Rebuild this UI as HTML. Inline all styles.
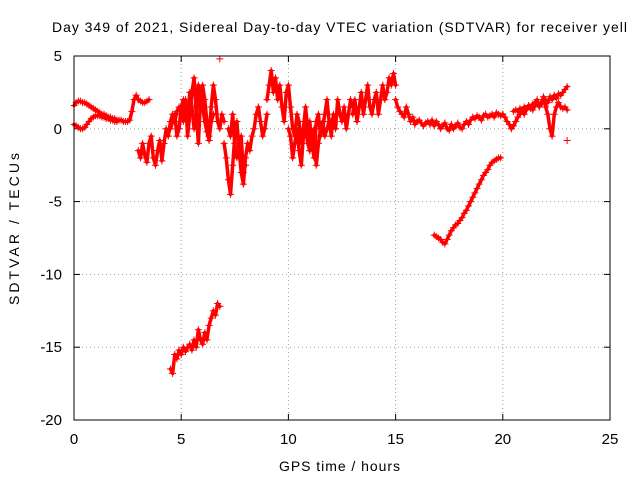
<!DOCTYPE html>
<html><head><meta charset="utf-8"><style>
html,body{margin:0;padding:0;background:#fff;}
svg{display:block;font-family:"Liberation Sans",sans-serif;}
</style></head><body>
<svg id="chart" width="640" height="480" xmlns="http://www.w3.org/2000/svg">
<rect width="640" height="480" fill="#fff"/>
<text x="52" y="32" font-size="14" textLength="575" lengthAdjust="spacing">Day 349 of 2021, Sidereal Day-to-day VTEC variation (SDTVAR) for receiver yell</text>
<text x="279" y="471" font-size="14" textLength="121" lengthAdjust="spacing">GPS time / hours</text>
<text transform="translate(19,305) rotate(-90)" font-size="14" textLength="152" lengthAdjust="spacing">SDTVAR / TECUs</text>
<g id="grid"></g><g id="ticks"></g><g id="marks"></g>
<rect x="74" y="56" width="536" height="364" fill="none" stroke="#000" stroke-width="1"/>
</svg>
<script>
const xTicks=[0,5,10,15,20,25];
const yTicks=[5,0,-5,-10,-15,-20];
const step=0.1;
const starts=[0,0,3.0,3.0,5.0,4.5,7.0,7.2,9.0,11.0,10.0,13.0,15.0,17.0,20.0,20.5,4.5,16.8];
const s1=[1.6,1.8,1.9,1.9,1.8,1.8,1.7,1.6,1.5,1.4,1.3,1.2,1.1,1.0,1.0,0.9,0.8,0.8,0.7,0.7,0.6,0.6,0.6,0.5,0.5,0.5,0.6,1.2,2.0,2.3,2.0];
const s2=[0.3,0.2,0.1,0.0,0.0,0.1,0.3,0.5,0.7,0.8,0.9,0.9,0.9,0.8,0.8,0.7,0.7,0.6,0.6,0.5,0.5];
const s3=[-1.5,-2.0,-1.0,-1.8,-2.3,-1.0,-0.5,-2.0,-2.5,-1.5,-0.8,-2.2,-1.0,0.0,-0.5,0.5,1.0,0.5,1.2,1.5,1.0];
const s4=[2.0,1.9,1.8,1.8,1.9,2.0];
const s5=[1.5,0.5,2.0,-0.5,1.0,2.5,3.5,1.0,-1.0,2.0,3.0,2.0,0.5,-0.5,1.5,3.0,2.0,0.5,0.0,1.0,0.5];
const s6=[0.0,0.5,1.0,-0.5,0.0,1.5,2.0,1.0,0.5,2.5,1.5,0.0,1.0,3.0,2.5,1.5,0.5,-0.2,-0.8,0.5,1.0];
const s7=[-1.0,-2.0,-3.5,-4.5,-2.5,-0.5,0.5,-1.5,-3.0,-3.8,-2.0,-1.0,-1.5,-0.5,0.0,1.0,1.5,0.5,-0.5,0.0,1.0];
const s8=[0.0,-0.5,1.0,-1.0,-2.0,-1.5,-0.5,-3.0,-2.5];
const s9=[2.0,3.0,4.0,2.5,3.5,2.0,3.0,1.5,0.5,2.5,3.0,1.5,0.0,-0.5,1.0,0.5,-1.0,0.0,1.5,0.0,-1.5];
const s10=[0.5,-1.0,-2.0,0.5,1.0,-0.5,0.0,1.0,2.0,0.5,-0.5,1.0,0.0,2.0,1.0,0.5,1.5,0.0,1.0,2.0,1.5];
const s11=[0.0,-0.5,-2.0,-1.0,0.0,-1.5,-2.5,-0.5,0.0,-1.0,-1.5,-0.5,0.0,-2.5,-1.0,0.0,0.5,-0.5,0.0,0.5,0.5];
const s12=[1.0,2.0,0.5,1.5,2.5,1.0,2.0,3.0,1.5,1.0,2.0,2.5,1.0,2.0,3.0,2.0,2.5,3.5,3.0,3.8,3.0];
const s13=[2.0,1.5,1.2,1.0,0.8,1.5,1.0,0.5,0.8,0.3,0.5,0.6,0.4,0.2,0.4,0.5,0.3,0.6,0.2,0.5,0.3];
const s14=[0.3,0.0,0.2,0.4,0.0,-0.1,0.3,0.0,0.2,0.4,0.1,0.0,0.3,0.5,0.3,0.6,0.8,0.7,0.9,0.8,0.6,0.9,1.0,0.8,0.9,1.0,0.8,1.1,1.0,0.9,1.0];
const s15=[1.0,0.8,0.5,0.3,0.0,0.2,0.5,0.8,1.0,1.2,1.0,1.3,1.5,1.4,1.3,1.6,1.8,1.5,1.7,1.9,2.0,1.8,2.2,2.0,2.3,2.1,2.4,2.3,2.5,2.7,2.9];
const s16=[1.2,1.3,1.2,1.4,1.3,1.5,1.4,1.6,1.5,1.7,1.8,2.0,1.6,1.8,2.2,1.5,1.0,0.0,-0.5,1.0,1.5,1.8,1.5,1.4,1.5,1.3];
const s17=[-16.5,-16.8,-15.5,-15.8,-15.2,-15.5,-15.0,-15.3,-15.0,-14.8,-15.2,-14.5,-15.0,-13.8,-14.5,-14.8,-14.0,-14.5,-13.5,-13.0,-12.5,-12.8,-12.0,-12.2];
const s18=[-7.3,-7.4,-7.5,-7.6,-7.8,-7.9,-7.6,-7.3,-7.0,-6.8,-6.6,-6.5,-6.3,-6.1,-5.8,-5.6,-5.3,-5.0,-4.7,-4.4,-4.1,-3.8,-3.5,-3.2,-3.0,-2.8,-2.5,-2.3,-2.2,-2.1,-2.0,-2.0];
const seriesValues=[s1,s2,s3,s4,s5,s6,s7,s8,s9,s10,s11,s12,s13,s14,s15,s16,s17,s18];
const extraT=[6.8,23.0];
const extraV=[4.8,-0.8];

const NS="http://www.w3.org/2000/svg";
const X0=74,X1=610,Y0=56,Y1=420;
function xs(t){return X0+(t-0)/(25-0)*(X1-X0);}
function ys(v){return Y0+(5-v)/(5-(-20))*(Y1-Y0);}
function mk(tag,attrs,parent){const e=document.createElementNS(NS,tag);for(const k in attrs)e.setAttribute(k,attrs[k]);parent.appendChild(e);return e;}
const grid=document.getElementById('grid'),ticks=document.getElementById('ticks'),marks=document.getElementById('marks');
xTicks.forEach(t=>{
  const x=xs(t);
  if(t>0&&t<25){const g=mk('line',{x1:x,x2:x,y1:Y0,y2:Y1,stroke:'#a0a0a0','stroke-dasharray':'1,3'},grid);
  
  }
  mk('line',{x1:x,x2:x,y1:Y1,y2:Y1-6,stroke:'#000'},ticks);
  mk('line',{x1:x,x2:x,y1:Y0,y2:Y0+6,stroke:'#000'},ticks);
  const l=mk('text',{x:x,y:444,'font-size':15,'text-anchor':'middle'},ticks);l.textContent=t;
  
  
});
yTicks.forEach(v=>{
  const y=ys(v);
  if(v<5&&v>-20){const g=mk('line',{x1:X0,x2:X1,y1:y,y2:y,stroke:'#a0a0a0','stroke-dasharray':'1,3'},grid);
  
  }
  mk('line',{x1:X0,x2:X0+6,y1:y,y2:y,stroke:'#000'},ticks);
  mk('line',{x1:X1,x2:X1-6,y1:y,y2:y,stroke:'#000'},ticks);
  const l=mk('text',{x:62,y:y+5,'font-size':15,'text-anchor':'end'},ticks);l.textContent=v;
  
  
});
function plus(t,v){
  const x=xs(t),y=ys(v);
  const p=mk('path',{d:`M${x-3.5},${y}H${x+3.5}M${x},${y-3.5}V${y+3.5}`,stroke:'#ff0000','stroke-width':1,fill:'none'},marks);
  
  
}
seriesValues.forEach((vals,i)=>{
  const pts=vals.map((v,j)=>xs(starts[i]+j*step).toFixed(1)+','+ys(v).toFixed(1)).join(' ');
  const pl=mk('polyline',{points:pts,fill:'none',stroke:'#ff0000','stroke-width':3.5,'stroke-linejoin':'round','stroke-linecap':'round'},marks);
  
  
  vals.forEach((v,j)=>plus(starts[i]+j*step,v));
});
extraT.forEach((t,i)=>plus(t,extraV[i]));
</script>
</body></html>
